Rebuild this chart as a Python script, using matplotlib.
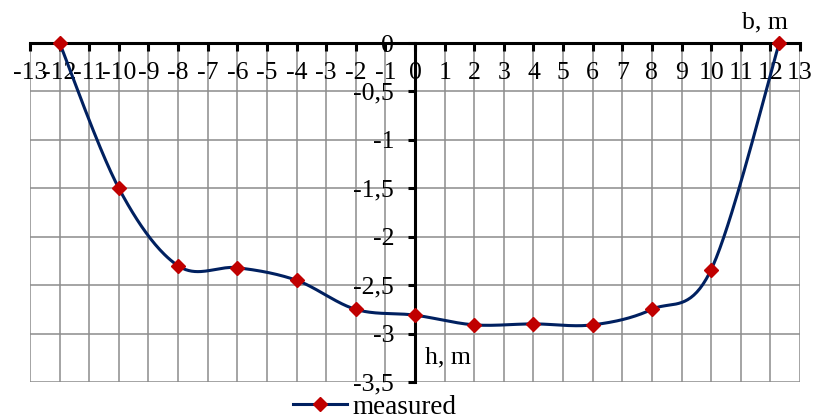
import numpy as np
import matplotlib.pyplot as plt
from matplotlib.lines import Line2D

plt.rcParams['font.family'] = ['Liberation Serif', 'DejaVu Serif']
plt.rcParams['axes.unicode_minus'] = False

# measured cross-section
b = [-12, -10, -8, -6, -4, -2, 0, 2, 4, 6, 8, 10, 12.3]
h = [0, -1.5, -2.3, -2.32, -2.45, -2.75, -2.81, -2.91, -2.9, -2.91, -2.75, -2.34, 0]
x_ticks = list(range(-13, 14))
y_ticks = [0, -0.5, -1, -1.5, -2, -2.5, -3, -3.5]
y_labels = ["0", "-0,5", "-1", "-1,5", "-2", "-2,5", "-3", "-3,5"]

navy = "#002060"
red = "#C00000"
fs = 18.5


def smooth(xs, ys, n=40):
    # catmull-rom style bezier, like a spreadsheet "smoothed line"
    p = np.column_stack([xs, ys]).astype(float)
    p = np.vstack([p[0], p, p[-1]])
    out = []
    for i in range(1, len(p) - 2):
        p0, p1, p2, p3 = p[i - 1], p[i], p[i + 1], p[i + 2]
        c1 = p1 + (p2 - p0) / 6
        c2 = p2 - (p3 - p1) / 6
        t = np.linspace(0, 1, n)[:, None]
        seg = ((1 - t) ** 3) * p1 + 3 * ((1 - t) ** 2) * t * c1 + 3 * (1 - t) * t ** 2 * c2 + t ** 3 * p2
        out.append(seg)
    out = np.vstack(out)
    return out[:, 0], out[:, 1]


fig = plt.figure(figsize=(8.14, 4.19), dpi=100)
ax = fig.add_axes([30 / 814, 1 - 382 / 419, 770 / 814, 339 / 419])

ax.set_xlim(-13, 13)
ax.set_ylim(-3.5, 0)
ax.set_xticks(x_ticks)
ax.set_yticks(y_ticks)
ax.set_yticklabels(y_labels)
ax.grid(True, color="#8c8c8c", lw=1.1)
ax.set_axisbelow(True)

ax.spines['bottom'].set_position(('data', 0))
ax.spines['left'].set_position(('data', 0))
ax.spines['bottom'].set_linewidth(2.2)
ax.spines['left'].set_linewidth(2.2)
ax.spines['top'].set_visible(False)
ax.spines['right'].set_visible(False)
ax.tick_params(axis='x', direction='out', length=6, width=2.2, labelsize=fs, pad=8)
ax.tick_params(axis='y', direction='out', length=5, width=2.2, labelsize=fs, pad=10)

sx, sy = smooth(b, h)
ax.plot(sx, sy, color=navy, lw=2.2, clip_on=False, zorder=3)
ax.plot(b, h, linestyle='none', marker='D', ms=7.5, color=red, clip_on=False, zorder=4)

ax.text(12.6, 0.21, "b, m", fontsize=fs, ha='right', va='center')
ax.text(0.34, -3.25, "h, m", fontsize=fs, ha='left', va='center')

handle = Line2D([], [], color=navy, lw=2.2, marker='D', ms=7.5, mfc=red, mec=red)
fig.legend([handle], ["measured"], loc='center', bbox_to_anchor=(0.46, 0.028),
           frameon=False, fontsize=19.5, handlelength=2.0, handletextpad=0.2,
           borderpad=0, borderaxespad=0)

fig.savefig("out.png", dpi=100)
